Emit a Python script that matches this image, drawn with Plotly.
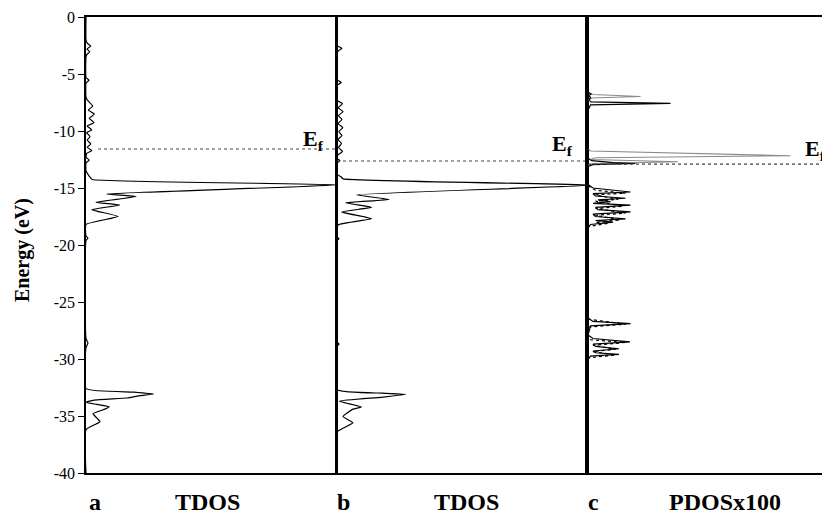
import plotly.graph_objects as go

# ---------------- data ----------------
energy_a = [0, -2.0, -2.3, -2.55, -2.8, -3.05, -3.3, -3.5, -5.3, -5.55, -5.8, -7.0,
            -7.28, -7.81, -8.16, -8.51, -8.89, -9.27, -9.56, -9.91, -10.15, -10.5,
            -10.79, -11.14, -11.43, -11.73, -11.96, -12.3, -12.55, -12.8, -13.5, -13.8,
            -14.05, -14.25, -14.72, -15.53, -15.75, -16.25, -16.5, -16.9, -17.5, -18.2,
            -19.2, -19.4, -19.6, -28.2, -28.6, -29.0, -32.6, -32.9, -33.07, -33.25,
            -33.42, -33.6, -33.8, -34.2, -34.4, -34.8, -35.5, -36.2, -40]
dos_a = [0, 0, 0.5, 1.9, 0.4, 1.5, 0.3, 0, 0, 1.2, 0, 0,
         0.5, 2.7, 0.9, 3.3, 1.3, 3.2, 0.5, 2.3, 0.3, 1.6,
         0.5, 1.9, 0.5, 2.3, 0.3, 0, 1.3, 0, 0, 0.8,
         1.6, 2.5, 101, 8.3, 20, 4, 13.5, 2.3, 12.8, 0,
         0, 0.8, 0, 0, 0.8, 0, 0, 19, 27, 20.5,
         16.5, 3.2, 0, 9.3, 7.6, 2.8, 5.6, 0, 0]

energy_b = [0, -2.5, -2.75, -2.95, -3.2, -5.5, -5.75, -6.0, -7.3, -7.6, -7.95, -8.3,
            -8.65, -9.0, -9.35, -9.7, -10.05, -10.4, -10.75, -11.1, -11.45, -11.8,
            -12.1, -12.4, -12.6, -12.8, -13.8, -14.0, -14.2, -14.75, -15.6, -16.0,
            -16.3, -16.7, -17.1, -17.7, -18.25, -19.3, -19.45, -19.6, -28.5, -28.7,
            -28.9, -32.7, -33.0, -33.1, -33.36, -33.7, -34.2, -34.4, -35.05, -35.6,
            -36.4, -40]
dos_b = [0, 0, 2.0, 0.6, 0, 0, 1.7, 0, 0, 2.2, 0.5, 2.4,
         0.6, 2.0, 0.4, 2.3, 0.7, 2.0, 0.4, 1.8, 0.6, 2.2,
         0.3, 0, 1.2, 0, 0, 1.5, 2.5, 102, 7.8, 20.8,
         3.5, 13.8, 1.8, 13.8, 0.4, 0, 0.8, 0, 0, 0.8,
         0, 0, 18.4, 27.5, 17.7, 1, 9.8, 6.4, 2.4, 6.4,
         0, 0]

energy_c_solid = [0, -6.6, -6.75, -6.9, -7.05, -7.3, -7.45, -7.57, -7.7, -8.0, -8.2,
                  -12.4, -12.6, -12.78, -12.85, -12.95, -13.1,
                  -14.7, -15.0, -15.35, -15.5, -15.7, -15.9, -16.05, -16.2, -16.35, -16.5,
                  -16.7, -16.9, -17.1, -17.3, -17.5, -17.7, -17.85, -18.0, -18.2, -18.5,
                  -26.4, -26.7, -26.9, -27.1, -27.9, -28.2, -28.5, -28.7, -28.9, -29.1,
                  -29.3, -29.45, -29.6, -29.75, -30.0, -40]
dos_c_solid = [0, 0, 1.2, 0.3, 1.0, 0.4, 1.2, 33, 1, 0.5, 0,
               0, 1.5, 10, 19, 2, 0,
               0, 2, 17, 2, 3, 15, 4, 9, 2, 17,
               3, 4, 17, 2, 3, 15, 3, 10, 1, 0,
               0, 2, 17, 1, 0, 2, 16.8, 2, 3, 12.4,
               2, 3, 12.4, 1, 0, 0]

energy_c_gray = [-6.6, -6.8, -6.98, -7.1, -7.3, None,
                 -11.6, -11.75, -12.17, -12.35, -12.5, -12.7, -12.85, -13.0]
dos_c_gray = [0, 2, 21, 1.5, 0, None,
              0, 1, 81, 3, 1, 36, 2, 0]

energy_c_dot = [-14.8, -15.2, -15.45, -15.6, -16.0, -16.15, -16.6, -16.8, -17.2, -17.4,
                -17.8, -18.0, -18.1, -18.4, None,
                -26.5, -26.95, -27.2, -28.3, -28.55, -28.8, -29.15, -29.35, -29.65, -29.9]
dos_c_dot = [0, 3, 15, 3, 12, 3, 14, 3, 15, 3,
             13, 3, 8, 0, None,
             0, 15, 0, 0, 15, 2, 11, 2, 11, 0]

fermi_levels = [-11.58, -12.63, -12.9]
panel_letters = ["a", "b", "c"]
panel_titles = ["TDOS", "TDOS", "PDOSx100"]
y_tick_vals = [0, -5, -10, -15, -20, -25, -30, -35, -40]
y_tick_text = ["0", "-5", "-10", "-15", "-20", "-25", "-30", "-35", "-40"]

# ---------------- layout constants ----------------
OFF = 8                      # default page margin of the html body
W, H = 830 - OFF, 516 - OFF  # figure size so that the page fits the window
ML, MT = 86 - OFF, 17 - OFF
MR = 0
MB = H - (473 - OFF)
PW = W - ML - MR
PH = H - MT - MB
SERIF = "Liberation Serif, Times New Roman, Times, serif"


def px_x(p):
    """page pixel -> paper x"""
    return (p - OFF - ML) / PW


def px_y(p):
    """page pixel -> paper y"""
    return (H - MB - (p - OFF)) / PH


dom_a = [0, 250 / PW]
dom_b = [251 / PW, 501 / PW]
dom_c = [502 / PW, 1]
x_range_c = [0, 96.8]

fig = go.Figure()

line_black = dict(color="black", width=1.2)
line_smooth = dict(color="black", width=1.2, shape="spline", smoothing=0.4)

fig.add_trace(go.Scatter(x=dos_a, y=energy_a, mode="lines", line=line_smooth,
                         xaxis="x", yaxis="y", showlegend=False))
fig.add_trace(go.Scatter(x=dos_b, y=energy_b, mode="lines", line=line_smooth,
                         xaxis="x2", yaxis="y2", showlegend=False))
fig.add_trace(go.Scatter(x=dos_c_gray, y=energy_c_gray, mode="lines",
                         line=dict(color="#8a8a8a", width=1.1), connectgaps=False,
                         xaxis="x3", yaxis="y3", showlegend=False))
fig.add_trace(go.Scatter(x=dos_c_dot, y=energy_c_dot, mode="lines",
                         line=dict(color="black", width=1.2, dash="dot"), connectgaps=False,
                         xaxis="x3", yaxis="y3", showlegend=False))
fig.add_trace(go.Scatter(x=dos_c_solid, y=energy_c_solid, mode="lines", line=line_black,
                         xaxis="x3", yaxis="y3", showlegend=False))

# Fermi level dotted lines
fermi_x = [[4.8, 100], [0, 100], [0, x_range_c[1]]]
axes = [("x", "y"), ("x2", "y2"), ("x3", "y3")]
for ef, xs, (xa, ya) in zip(fermi_levels, fermi_x, axes):
    fig.add_trace(go.Scatter(x=xs, y=[ef, ef], mode="lines",
                             line=dict(color="#444444", width=1.2, dash="dot"),
                             xaxis=xa, yaxis=ya, showlegend=False))

xcommon = dict(showline=True, mirror=True, linecolor="black", linewidth=1.5,
               showticklabels=False, ticks="", showgrid=False, zeroline=False)
ycommon = dict(range=[-40, 0], showline=True, linecolor="black", linewidth=1.5,
               showgrid=False, zeroline=False)

fig.update_layout(
    width=W, height=H, autosize=False,
    margin=dict(l=ML, r=MR, t=MT, b=MB, pad=0),
    paper_bgcolor="white", plot_bgcolor="white",
    xaxis=dict(domain=dom_a, range=[0, 100], anchor="y", **xcommon),
    xaxis2=dict(domain=dom_b, range=[0, 100], anchor="y2", **xcommon),
    xaxis3=dict(domain=dom_c, range=x_range_c, anchor="y3", **xcommon),
    yaxis=dict(anchor="x", mirror=True, tickmode="array", tickvals=y_tick_vals,
               ticktext=y_tick_text, ticks="outside", ticklen=6, tickwidth=1.2,
               tickcolor="black", tickfont=dict(family=SERIF, size=16, color="black"),
               **ycommon),
    yaxis2=dict(anchor="x2", matches="y", mirror=True, showticklabels=False, ticks="",
                **ycommon),
    yaxis3=dict(anchor="x3", matches="y", mirror=False, showticklabels=False, ticks="",
                **{**ycommon, "linewidth": 2.5}),
)

annotations = []
# y-axis title
annotations.append(dict(text="<b>Energy (eV)</b>", xref="paper", yref="paper",
                        x=px_x(22), y=px_y(250), xanchor="center", yanchor="middle",
                        textangle=-90, showarrow=False,
                        font=dict(family=SERIF, size=20, color="black")))
# panel labels
letter_px = [95, 343, 593]
title_px = [207, 466, 725]
for lt, tt, lx, tx in zip(panel_letters, panel_titles, letter_px, title_px):
    annotations.append(dict(text="<b>%s</b>" % lt, xref="paper", yref="paper",
                            x=px_x(lx), y=px_y(502), xanchor="center", yanchor="middle",
                            showarrow=False, font=dict(family=SERIF, size=24, color="black")))
    annotations.append(dict(text="<b>%s</b>" % tt, xref="paper", yref="paper",
                            x=px_x(tx), y=px_y(502), xanchor="center", yanchor="middle",
                            showarrow=False, font=dict(family=SERIF, size=24, color="black")))
# E_f labels
ef_px = [(301, 140), (550, 145), (803, 150)]
for (ex, ey) in ef_px:
    annotations.append(dict(text="<b>E<sub>f</sub></b>", xref="paper", yref="paper",
                            x=px_x(ex), y=px_y(ey), xanchor="left", yanchor="middle",
                            showarrow=False, font=dict(family=SERIF, size=22, color="black")))

fig.update_layout(annotations=annotations)

fig.write_html("out.html")
